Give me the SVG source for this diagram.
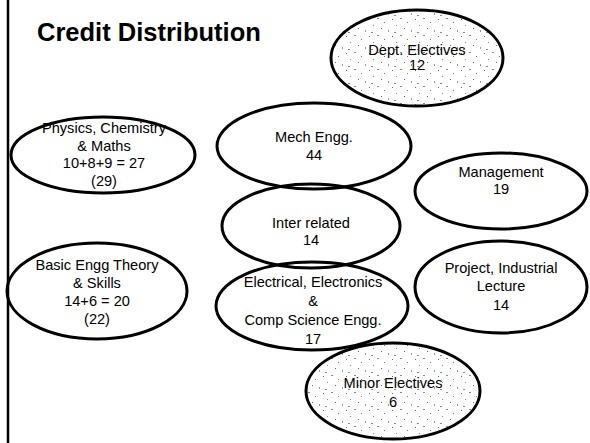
<svg xmlns="http://www.w3.org/2000/svg" width="590" height="443" viewBox="0 0 590 443">
<defs>
<pattern id="stip" width="23" height="17" patternUnits="userSpaceOnUse">
<rect x="1" y="2" width="1" height="1" fill="#666"/>
<rect x="9" y="1" width="2" height="1" fill="#888"/>
<rect x="16" y="5" width="1" height="1" fill="#777"/>
<rect x="5" y="8" width="1" height="1" fill="#888"/>
<rect x="13" y="11" width="1" height="1" fill="#666"/>
<rect x="20" y="13" width="1" height="2" fill="#999"/>
<rect x="3" y="15" width="2" height="1" fill="#888"/>
</pattern>
</defs>
<style>
.e{fill:none;stroke:#000;stroke-width:3}
.s{fill:url(#stip);stroke:#000;stroke-width:3}
text{font-family:"Liberation Sans",Arial,sans-serif;font-size:14.6px;text-anchor:middle;fill:#000}
.t{font-size:25.5px;font-weight:bold;text-anchor:start}
</style>
<rect width="590" height="443" fill="#fff"/>
<line x1="8" y1="0" x2="8" y2="443" stroke="#000" stroke-width="2.5"/>
<text class="t" x="37" y="41">Credit Distribution</text>
<g id="connectors"/>
<g id="dept">
<ellipse class="s" cx="417" cy="58" rx="86" ry="48"/>
<text x="417" y="55">Dept. Electives</text>
<text x="417" y="70">12</text>
</g>
<g id="physics">
<ellipse class="e" cx="103" cy="155" rx="92" ry="38"/>
<text x="104" y="133">Physics, Chemistry</text>
<text x="104" y="151">&amp; Maths</text>
<text x="104" y="168">10+8+9 = 27</text>
<text x="104" y="186">(29)</text>
</g>
<g id="mech">
<ellipse class="e" cx="314" cy="146" rx="97" ry="43"/>
<text x="314" y="142">Mech Engg.</text>
<text x="314" y="160">44</text>
</g>
<g id="inter">
<ellipse class="e" cx="311" cy="226" rx="89" ry="42"/>
<text x="311" y="228">Inter related</text>
<text x="311" y="245">14</text>
</g>
<g id="management">
<ellipse class="e" cx="501" cy="191" rx="86" ry="38"/>
<text x="501" y="177">Management</text>
<text x="501" y="194">19</text>
</g>
<g id="basic">
<ellipse class="e" cx="97" cy="291" rx="90" ry="48"/>
<text x="97" y="270">Basic Engg Theory</text>
<text x="97" y="288">&amp; Skills</text>
<text x="97" y="306">14+6 = 20</text>
<text x="97" y="324">(22)</text>
</g>
<g id="electrical">
<ellipse class="e" cx="312" cy="306" rx="96" ry="44"/>
<text x="313" y="287">Electrical, Electronics</text>
<text x="313" y="306">&amp;</text>
<text x="313" y="325">Comp Science Engg.</text>
<text x="313" y="344">17</text>
</g>
<g id="project">
<ellipse class="e" cx="501" cy="287" rx="86" ry="46"/>
<text x="501" y="273">Project, Industrial</text>
<text x="501" y="291">Lecture</text>
<text x="501" y="310">14</text>
</g>
<g id="minor">
<ellipse class="s" cx="393" cy="391" rx="87" ry="48"/>
<text x="393" y="388">Minor Electives</text>
<text x="393" y="407">6</text>
</g>
</svg>
